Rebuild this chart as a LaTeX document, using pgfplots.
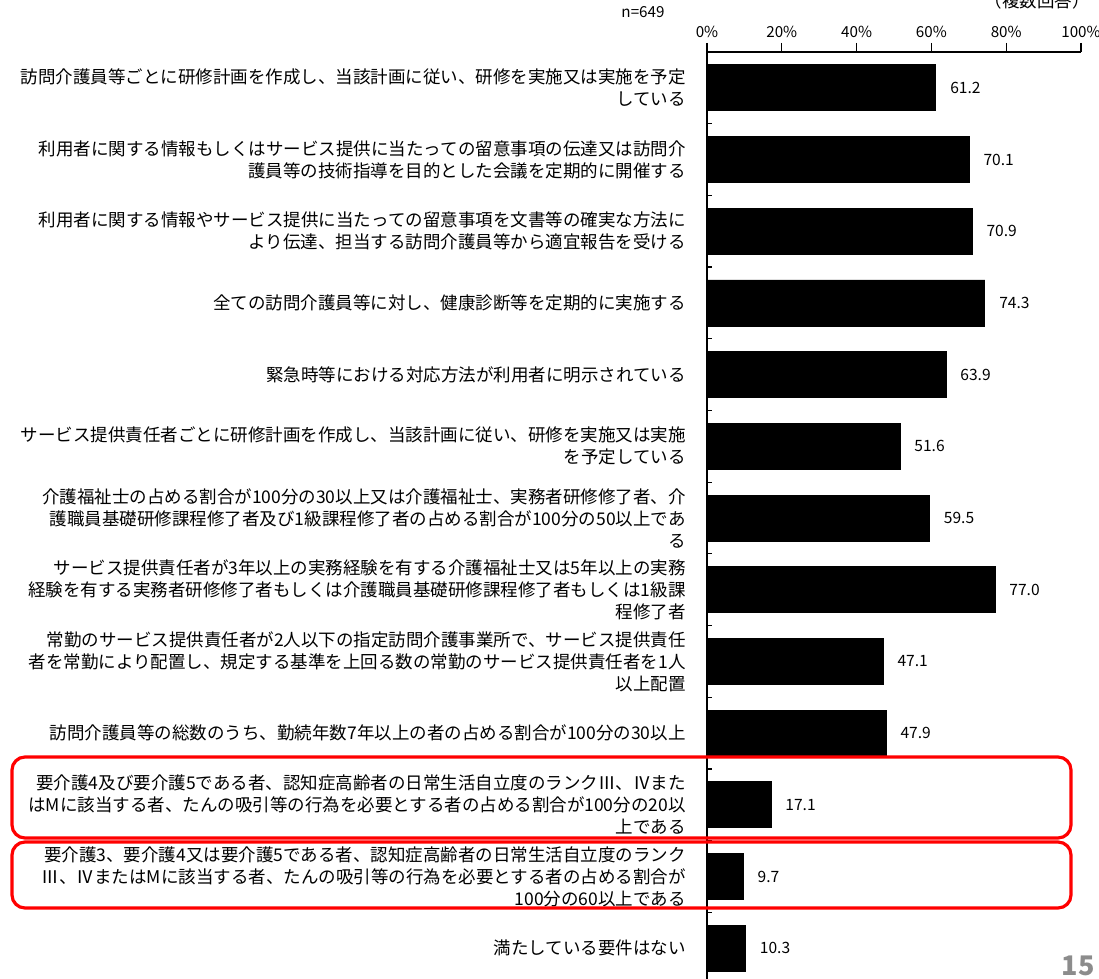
\documentclass[border=0pt]{standalone}
\usepackage{fontspec}
\setmainfont{Noto Sans CJK JP}
\usepackage{pgfplots}
\pgfplotsset{compat=1.18}
\def\u{0.5pt}
\definecolor{pgray}{RGB}{140,140,140}
\begin{document}
\begin{tikzpicture}
\useasboundingbox (0,0) rectangle ({1099*\u},{-979*\u});
\clip (0,0) rectangle ({1099*\u},{-979*\u});
\begin{axis}[
  at={({707*\u},{-984*\u})}, anchor=south west,
  scale only axis, width={374*\u}, height={932*\u},
  xmin=0, xmax=100, ymin=-0.5, ymax=12.5,
  axis x line*=top, axis y line*=left,
  axis line style={-, black, line width=0.6pt},
  xtick={0,20,40,60,80,100},
  xticklabels={0\%,20\%,40\%,60\%,80\%,100\%},
  xtick align=outside, major tick length=4.5pt,
  x tick style={black, line width=0.6pt},
  xticklabel style={font=\fontsize{7.6}{9}\selectfont, inner sep=1pt, yshift=1.5pt},
  ytick={0,...,12},
  major y tick style={draw=none},
  minor ytick={0.5,1.5,...,11.5},
  minor y tick style={black, line width=0.6pt},
  ytick align=inside, minor tick length=2.5pt,
  yticklabel style={anchor=east, inner sep=0pt, xshift=-10.5pt, align=right,
    font=\fontsize{8.75}{11}\selectfont},
  yticklabels={
    {満たしている要件はない},
    {要介護3、要介護4又は要介護5である者、認知症高齢者の日常生活自立度のランク\\Ⅲ、ⅣまたはMに該当する者、たんの吸引等の行為を必要とする者の占める割合が\\100分の60以上である},
    {要介護4及び要介護5である者、認知症高齢者の日常生活自立度のランクⅢ、Ⅳまた\\はMに該当する者、たんの吸引等の行為を必要とする者の占める割合が100分の20以\\上である},
    {訪問介護員等の総数のうち、勤続年数7年以上の者の占める割合が100分の30以上},
    {常勤のサービス提供責任者が2人以下の指定訪問介護事業所で、サービス提供責任\\者を常勤により配置し、規定する基準を上回る数の常勤のサービス提供責任者を1人\\以上配置},
    {サービス提供責任者が3年以上の実務経験を有する介護福祉士又は5年以上の実務\\経験を有する実務者研修修了者もしくは介護職員基礎研修課程修了者もしくは1級課\\程修了者},
    {介護福祉士の占める割合が100分の30以上又は介護福祉士、実務者研修修了者、介\\護職員基礎研修課程修了者及び1級課程修了者の占める割合が100分の50以上であ\\る},
    {サービス提供責任者ごとに研修計画を作成し、当該計画に従い、研修を実施又は実施\\を予定している},
    {緊急時等における対応方法が利用者に明示されている},
    {全ての訪問介護員等に対し、健康診断等を定期的に実施する},
    {利用者に関する情報やサービス提供に当たっての留意事項を文書等の確実な方法に\\より伝達、担当する訪問介護員等から適宜報告を受ける},
    {利用者に関する情報もしくはサービス提供に当たっての留意事項の伝達又は訪問介\\護員等の技術指導を目的とした会議を定期的に開催する},
    {訪問介護員等ごとに研修計画を作成し、当該計画に従い、研修を実施又は実施を予定\\している}
  },
  /pgf/number format/assume math mode=true,
]
\addplot[xbar, fill=black, draw=black, bar width={46*\u},
  point meta=x,
  nodes near coords={\pgfmathprintnumber[fixed,fixed zerofill,precision=1,assume math mode=true]{\pgfplotspointmeta}},
  nodes near coords style={anchor=west, inner sep=0pt, xshift=7pt, font=\fontsize{7.8}{9}\selectfont, text=black}]
coordinates {
(61.2,12) (70.1,11) (70.9,10) (74.3,9) (63.9,8) (51.6,7) (59.5,6)
(77.0,5) (47.1,4) (47.9,3) (17.1,2) (9.7,1) (10.3,0)
};
\end{axis}
\begin{scope}[x=\u, y=\u]
\draw[red, line width=1.6pt, rounded corners=6.5pt] (12,-757) rectangle (1071,-838);
\draw[red, line width=1.6pt, rounded corners=6.5pt] (12,-842) rectangle (1071,-908);
\node[font=\fontsize{7.6}{9}\selectfont, inner sep=0pt] at (643,-12) {n=649};
\node[font=\fontsize{8.75}{11}\selectfont, inner sep=0pt] at (1037,-1) {（複数回答）};
\node[font=\fontsize{13.5}{15}\selectfont\bfseries, text=pgray, inner sep=0pt] at (1078,-966) {15};
\end{scope}
\end{tikzpicture}
\end{document}
